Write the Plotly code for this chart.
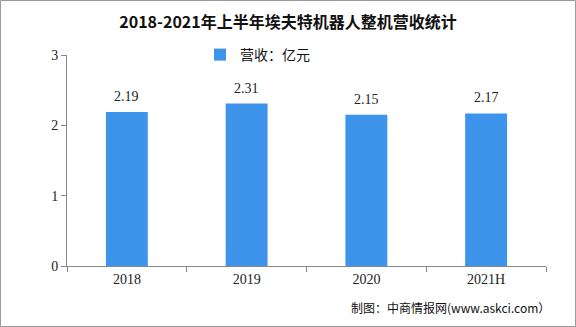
import plotly.graph_objects as go

categories = ["2018", "2019", "2020", "2021H"]
revenue = [2.19, 2.31, 2.15, 2.17]
y_ticks = [0, 1, 2, 3]

W, H = 576, 327
L, R, T, B = 67, 30, 55, 61
pw, ph = W - L - R, H - T - B

fig = go.Figure()
fig.add_trace(go.Bar(
    x=categories, y=revenue, name="营收：亿元",
    marker=dict(color="#3d94ea", line=dict(width=0)),
    width=0.35,
))
for i, v in enumerate(revenue):
    fig.add_annotation(x=i, y=v, text=f"{v:.2f}", showarrow=False,
                       yanchor="bottom", yshift=6,
                       font=dict(size=14, color="#222", family="Liberation Serif, serif"))

fig.update_layout(
    width=W, height=H,
    margin=dict(l=L, r=R, t=T, b=B, autoexpand=False),
    paper_bgcolor="white", plot_bgcolor="white",
    title=dict(text="<b>2018-2021年上半年埃夫特机器人整机营收统计</b>",
               x=0.5, xref="container", y=1 - 22 / H, yref="container",
               xanchor="center", yanchor="middle",
               font=dict(size=16, color="#111", family="Noto Sans CJK SC, serif")),
    showlegend=True,
    legend=dict(orientation="h", x=200 / W, xref="container", xanchor="left",
                y=1 - 55 / H, yref="container", yanchor="middle",
                font=dict(size=14, color="#111", family="Noto Sans CJK SC"),
                itemwidth=30, bgcolor="rgba(0,0,0,0)"),
    bargap=0.65,
    font=dict(family="Liberation Serif, Noto Sans CJK SC, serif", color="#222"),
)
fig.update_xaxes(
    type="category", tickangle=0, categoryorder="array", categoryarray=categories,
    showline=True, linecolor="#888", linewidth=1,
    ticks="outside", tickson="boundaries", ticklen=5, tickcolor="#888",
    tickfont=dict(size=14, color="#222", family="Liberation Serif, serif"),
    showgrid=False,
)
fig.update_yaxes(
    range=[0, 3], tickvals=y_ticks, showline=True, linecolor="#888", linewidth=1,
    ticks="outside", ticklen=5, tickcolor="#888", showgrid=False, zeroline=False,
    tickfont=dict(size=14, color="#222", family="Liberation Serif, serif"),
)
# outer border
fig.add_shape(type="rect", xref="paper", yref="paper",
              x0=-L / pw + 0.5 / pw, x1=(W - L - 0.5) / pw,
              y0=-B / ph + 0.5 / ph, y1=(H - B - 0.5) / ph,
              line=dict(color="#999", width=1), fillcolor="rgba(0,0,0,0)", layer="below")
fig.add_annotation(text="制图：中商情报网(www.askci.com）", xref="paper", yref="paper",
                   x=(552 - L) / pw, xanchor="right", y=-(307 - (H - B)) / ph, yanchor="middle",
                   showarrow=False, font=dict(size=12, color="#111", family="Noto Sans CJK SC"))

fig.write_html("out.html")
